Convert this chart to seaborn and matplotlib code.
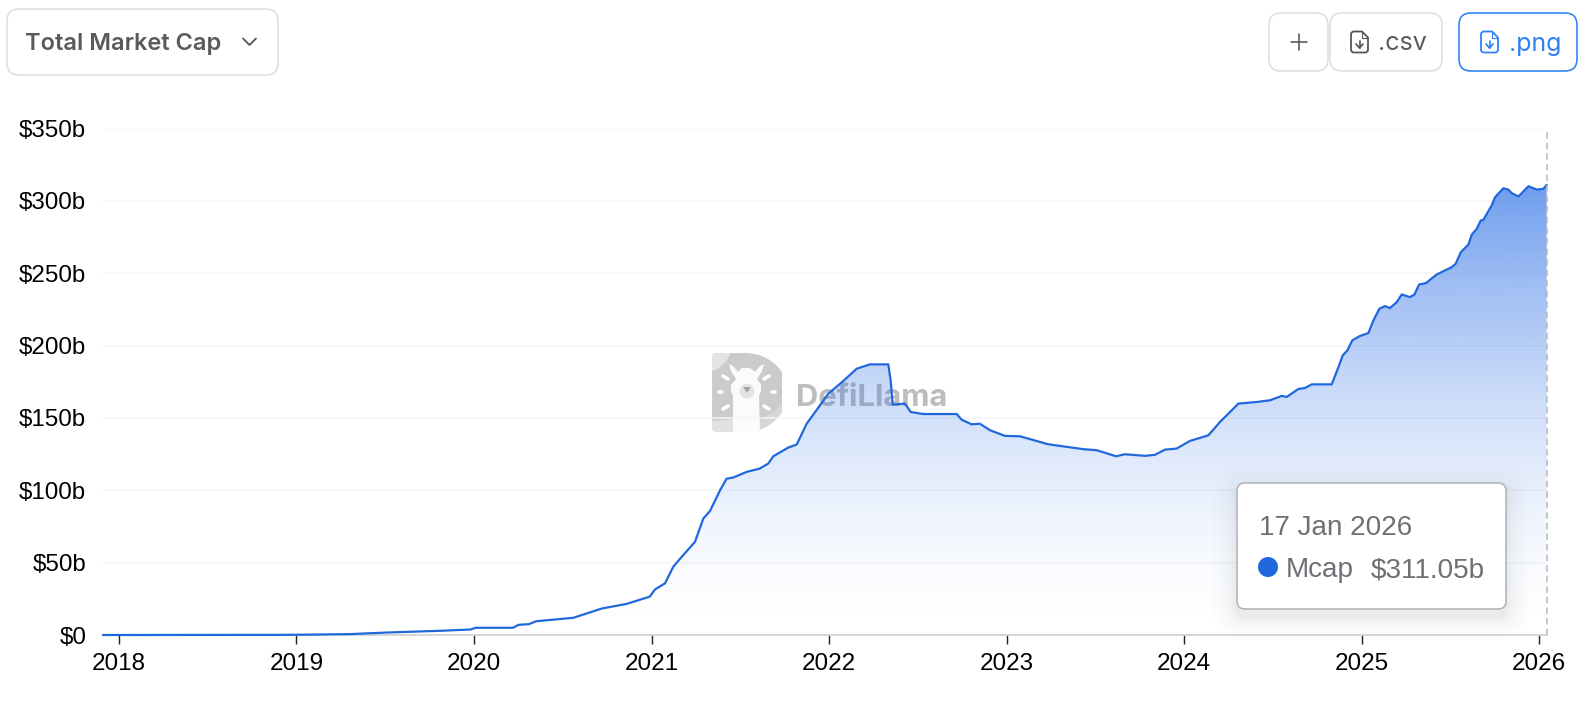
import numpy as np
import pandas as pd
import matplotlib
matplotlib.use("Agg")
import matplotlib.pyplot as plt
import seaborn as sns
from matplotlib.patches import FancyBboxPatch, Circle, Ellipse, PathPatch, Polygon
from matplotlib.path import Path

years = [2017.91, 2018.5, 2018.9, 2019.02, 2019.30, 2019.51, 2019.81, 2019.98, 2020.01, 2020.22, 2020.25, 2020.31,
         2020.35, 2020.56, 2020.65, 2020.72, 2020.86, 2020.99, 2021.02, 2021.076, 2021.123, 2021.17, 2021.245,
         2021.292, 2021.33, 2021.386, 2021.423, 2021.46, 2021.536, 2021.61, 2021.658, 2021.686, 2021.77, 2021.818,
         2021.874, 2021.949, 2021.996, 2022.07, 2022.156, 2022.23, 2022.334, 2022.347, 2022.359, 2022.428, 2022.46,
         2022.531, 2022.719, 2022.747, 2022.803, 2022.85, 2022.907, 2022.991, 2023.076, 2023.235, 2023.433, 2023.508,
         2023.617, 2023.667, 2023.78, 2023.836, 2023.893, 2023.958, 2024.033, 2024.137, 2024.165, 2024.202, 2024.25,
         2024.306, 2024.409, 2024.4845, 2024.55, 2024.578, 2024.644, 2024.682, 2024.719, 2024.832, 2024.87, 2024.894,
         2024.92, 2024.948, 2024.99, 2025.038, 2025.067, 2025.1, 2025.132, 2025.16, 2025.198, 2025.226, 2025.273,
         2025.298, 2025.324, 2025.363, 2025.423, 2025.508, 2025.53, 2025.559, 2025.602, 2025.621, 2025.649, 2025.671,
         2025.686, 2025.733, 2025.752, 2025.799, 2025.827, 2025.846, 2025.884, 2025.94, 2025.987, 2026.024, 2026.043]
mcap = [0.0, 0.05, 0.1, 0.2, 0.6, 1.7, 2.9, 3.8, 5.0, 5.0, 7.0, 7.5,
        9.5, 11.9, 15.5, 18.3, 21.5, 26.5, 31.5, 35.7, 47.2, 54.0, 64.4,
        80.5, 85.8, 100.0, 108.0, 108.8, 112.7, 115.0, 118.5, 123.5, 129.5, 131.6,
        146.0, 158.7, 166.8, 174.4, 184.0, 187.0, 187.0, 176.0, 159.2, 159.9, 154.1,
        152.7, 152.7, 148.8, 145.6, 146.0, 141.5, 137.6, 137.3, 131.8, 128.4, 127.7,
        123.5, 124.9, 123.8, 124.5, 128.1, 128.8, 134.1, 138.0, 141.9, 147.2, 153.0,
        159.9, 161.0, 162.2, 165.2, 164.5, 170.0, 170.7, 173.2, 173.2, 185.2, 193.2,
        196.7, 203.6, 206.6, 208.6, 217.4, 225.4, 227.3, 225.9, 230.0, 235.3, 233.5,
        235.3, 242.2, 243.2, 249.1, 254.2, 256.5, 264.5, 269.8, 276.7, 280.7, 286.4,
        286.9, 296.8, 302.5, 308.7, 307.8, 305.3, 303.0, 310.1, 307.8, 308.3, 311.05]
y_ticks = [0, 50, 100, 150, 200, 250, 300, 350]
y_labels = ["$0", "$50b", "$100b", "$150b", "$200b", "$250b", "$300b", "$350b"]
x_ticks = [2018, 2019, 2020, 2021, 2022, 2023, 2024, 2025, 2026]
x_labels = ["2018", "2019", "2020", "2021", "2022", "2023", "2024", "2025", "2026"]
tooltip_date = "17 Jan 2026"
tooltip_series = "Mcap"
tooltip_value = "$311.05b"
selector_label = "Total Market Cap"

W, H = 1592, 704
LINE = "#1f67dc"
sns.set_theme(style="white")
plt.rcParams['font.family'] = ['Liberation Sans', 'DejaVu Sans']
px = 72 / 100

fig = plt.figure(figsize=(W / 100, H / 100), dpi=100, facecolor="white")

# ---------- watermark layer (behind the chart)
bg = fig.add_axes([0, 0, 1, 1], zorder=0)
bg.set_xlim(0, W); bg.set_ylim(H, 0); bg.axis("off")
d_verts = [(718, 353), (745, 353), (768, 353), (782, 372), (782, 392), (782, 412), (768, 432), (745, 432),
           (718, 432), (714, 432), (712, 430), (712, 426), (712, 359), (712, 355), (714, 353), (718, 353)]
d_codes = [Path.MOVETO, Path.LINETO, Path.CURVE3, Path.CURVE3, Path.CURVE3, Path.CURVE3, Path.CURVE3, Path.LINETO,
           Path.LINETO, Path.CURVE3, Path.CURVE3, Path.LINETO, Path.LINETO, Path.CURVE3, Path.CURVE3, Path.CLOSEPOLY]
d_patch = PathPatch(Path(d_verts, d_codes), fc="#cbcbcb", ec="none")
bg.add_patch(d_patch)
for c in [Circle((702, 343), 30, fc="#e4e4e4", ec="none"),
          Polygon([(712, 421), (733, 419), (733, 432), (712, 432)], fc="#e2e2e2", ec="none"),
          Polygon([(760, 420), (782, 405), (782, 432), (760, 432)], fc="#d6d6d6", ec="none")]:
    bg.add_patch(c); c.set_clip_path(d_patch)
llama = [(729, 364), (733, 366), (738, 372), (742, 368), (750, 368), (755, 372), (760, 366), (764, 364), (762, 371),
         (757, 379), (761, 385), (761, 391), (759, 396), (760, 432), (733, 432), (733, 396), (731, 391), (731, 385),
         (736, 379), (731, 371)]
bg.add_patch(Polygon(llama, fc="#fbfbfb", ec="none"))
bg.add_patch(Ellipse((747, 391), 15, 15, fc="#e4e4e4", ec="none"))
bg.add_patch(Polygon([(743, 387), (751, 387), (747, 393)], fc="#a8a8a8", ec="none"))
for (x0, y0, x1, y1) in [(723, 376, 728, 379), (764, 379, 769, 376), (719, 392, 722, 392), (772, 392, 775, 392),
                         (723, 409, 728, 406), (764, 406, 769, 409)]:
    bg.plot([x0, x1], [y0, y1], color="white", lw=3.6 * px, solid_capstyle="round")
bg.text(796, 398, "DefiLlama", family="Inter", weight="bold", fontsize=22.3, color="#bdbdbd", va="center", ha="left")

# ---------- chart
ax = fig.add_axes([103 / W, 1 - 635 / H, (1546.7 - 103) / W, (635 - 128.5) / H], zorder=1)
ax.patch.set_alpha(0)
frame = pd.DataFrame({"year": years, "mcap": mcap})
poly = ax.fill_between(frame["year"], frame["mcap"], 0, color="none")
grad = np.zeros((256, 2, 4))
rgb = matplotlib.colors.to_rgb("#2a6fe6")
grad[..., 0], grad[..., 1], grad[..., 2] = rgb
grad[..., 3] = (0.68 * np.linspace(1, 0, 256) ** 1.6)[:, None]
im = ax.imshow(grad, extent=(years[0], years[-1], 0, max(mcap)), origin="upper", aspect="auto", zorder=1)
im.set_clip_path(poly.get_paths()[0], transform=ax.transData)
sns.lineplot(data=frame, x="year", y="mcap", color=LINE, linewidth=2.2 * px, ax=ax, zorder=3, errorbar=None,
             sort=False, legend=False, clip_on=False)

ax.set_xlim(2017.91, 2026.043)
ax.set_ylim(0, 350)
ax.set_xticks(x_ticks, x_labels)
ax.set_yticks(y_ticks, y_labels)
ax.set_xlabel(""); ax.set_ylabel("")
ax.grid(axis="y", color="#f5f5f5", lw=1.5 * px)
ax.grid(axis="x", visible=False)
ax.set_axisbelow(True)
for s in ("top", "right", "left"):
    ax.spines[s].set_visible(False)
ax.spines["bottom"].set_color("#cccccc")
ax.spines["bottom"].set_linewidth(1.5 * px)
ax.tick_params(axis="x", length=9 * px, width=1.4 * px, color="#222222", labelsize=17.5, labelcolor="black", pad=6.5, bottom=True)
ax.tick_params(axis="y", length=0, labelsize=17.4, labelcolor="black", pad=12)
ax.axvline(2026.043, color="#b9b9bf", lw=1.6 * px, ls=(0, (4, 2.6)), zorder=4, clip_on=False)

# ---------- interface overlay
ui = fig.add_axes([0, 0, 1, 1], zorder=2)
ui.set_xlim(0, W); ui.set_ylim(H, 0); ui.axis("off"); ui.patch.set_alpha(0)


def box(x0, y0, x1, y1, r=12, ec="#dedede", lw=1.6, fc="white", z=2, alpha=1.0):
    p = FancyBboxPatch((x0 + r, y0 + r), x1 - x0 - 2 * r, y1 - y0 - 2 * r, boxstyle=f"round,pad={r},rounding_size={r}",
                       fc=fc, ec=ec, lw=lw * px, zorder=z, alpha=alpha, mutation_aspect=1)
    ui.add_patch(p)


def doc_icon(x0, y0, color):
    w, h = 17, 21
    r = 3
    verts = [(x0 + r, y0), (x0 + w - 6, y0), (x0 + w, y0 + 6), (x0 + w, y0 + h - r), (x0 + w, y0 + h), (x0 + w - r, y0 + h),
             (x0 + r, y0 + h), (x0, y0 + h), (x0, y0 + h - r), (x0, y0 + r), (x0, y0), (x0 + r, y0)]
    codes = [Path.MOVETO, Path.LINETO, Path.LINETO, Path.LINETO, Path.CURVE3, Path.CURVE3, Path.LINETO, Path.CURVE3,
             Path.CURVE3, Path.LINETO, Path.CURVE3, Path.CURVE3]
    ui.add_patch(PathPatch(Path(verts, codes), fc="none", ec=color, lw=1.8 * px, zorder=3))
    ui.plot([x0 + w - 6, x0 + w - 6, x0 + w], [y0, y0 + 6, y0 + 6], color=color, lw=1.1 * px, zorder=3)
    ui.plot([x0 + w / 2, x0 + w / 2], [y0 + 9, y0 + 16], color=color, lw=1.7 * px, zorder=3)
    ui.plot([x0 + w / 2 - 3.5, x0 + w / 2, x0 + w / 2 + 3.5], [y0 + 12.5, y0 + 16.5, y0 + 12.5], color=color, lw=1.7 * px, zorder=3)


box(7, 9, 278, 75)
ui.text(25, 44, selector_label, family="Inter", weight="semibold", fontsize=17, color="#5a5a5a", va="center", ha="left", zorder=3)
ui.plot([243, 249.5, 256], [38.5, 45, 38.5], color="#555555", lw=1.8 * px, zorder=3, solid_capstyle="round")

box(1269, 13, 1328, 71)
ui.plot([1291, 1307], [42, 42], color="#555555", lw=1.6 * px, zorder=3)
ui.plot([1299, 1299], [34, 50], color="#555555", lw=1.6 * px, zorder=3)

box(1330, 13, 1442, 71)
doc_icon(1351, 31.5, "#555555")
ui.text(1378, 44, ".csv", family="Inter", fontsize=18, color="#5a5a5a", va="center", ha="left", zorder=3)

box(1459, 13, 1577, 71, ec="#2f80f5")
doc_icon(1481, 31.5, "#2f80f5")
ui.text(1509, 44, ".png", family="Inter", fontsize=18, color="#2f80f5", va="center", ha="left", zorder=3)

# tooltip
for grow, a in [(24, 0.008), (18, 0.010), (13, 0.013), (9, 0.017), (5, 0.022), (2, 0.028)]:
    box(1237 - grow, 483 - grow + 7, 1506 + grow, 609 + grow + 7, r=8 + grow, ec="none", lw=0, fc="#4a4f5c", z=4, alpha=a)
box(1237, 483, 1506, 609, r=8, ec="#b4b4b8", lw=1.6, z=5)
ui.text(1259, 535, tooltip_date, fontsize=20.1, color="#6f6f76", va="baseline", ha="left", zorder=6)
ui.add_patch(Circle((1268, 567), 10, fc=LINE, ec="none", zorder=6))
ui.text(1286, 577, tooltip_series, fontsize=20.1, color="#6f6f76", va="baseline", ha="left", zorder=6)
ui.text(1371, 577, tooltip_value, fontsize=20.1, color="#6f6f76", va="baseline", ha="left", zorder=6)

fig.savefig("out.png", dpi=100, facecolor="white")
